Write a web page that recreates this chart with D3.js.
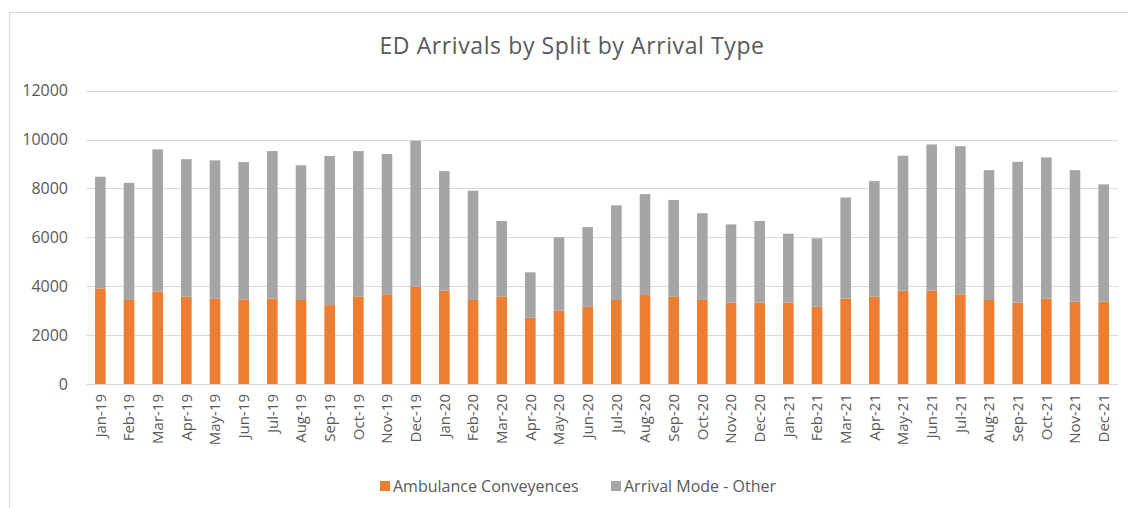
<!DOCTYPE html>
<html>
<head>
<meta charset="utf-8">
<script src="https://cdn.jsdelivr.net/npm/d3@7"></script>
<style>
  html, body { margin: 0; padding: 0; background: #fff; }
  svg { display: block; font-family: "Open Sans", "Noto Sans", sans-serif; }
</style>
</head>
<body>
<div id="chart"></div>
<script>
// Monthly ED arrivals, split by arrival type
const months = [
  'Jan-19', 'Feb-19', 'Mar-19', 'Apr-19', 'May-19', 'Jun-19', 'Jul-19', 'Aug-19', 'Sep-19', 'Oct-19', 'Nov-19', 'Dec-19',
  'Jan-20', 'Feb-20', 'Mar-20', 'Apr-20', 'May-20', 'Jun-20', 'Jul-20', 'Aug-20', 'Sep-20', 'Oct-20', 'Nov-20', 'Dec-20',
  'Jan-21', 'Feb-21', 'Mar-21', 'Apr-21', 'May-21', 'Jun-21', 'Jul-21', 'Aug-21', 'Sep-21', 'Oct-21', 'Nov-21', 'Dec-21'
];
const ambulance = [
  3910, 3440, 3780, 3570, 3500, 3460, 3500, 3440, 3230, 3570, 3670, 3980,
  3820, 3440, 3570, 2710, 3000, 3160, 3440, 3640, 3570, 3440, 3330, 3330,
  3330, 3160, 3490, 3570, 3820, 3820, 3670, 3440, 3330, 3500, 3370, 3370
];
const other = [
  4570, 4790, 5820, 5630, 5650, 5620, 6030, 5510, 6100, 5960, 5740, 5970,
  4890, 4470, 3100, 1860, 3000, 3260, 3870, 4130, 3960, 3550, 3200, 3340,
  2820, 2800, 4140, 4730, 5520, 5980, 6060, 5310, 5760, 5770, 5380, 4800
];
const seriesNames = ['Ambulance Conveyences', 'Arrival Mode - Other'];
const seriesColors = ['#ED7D31', '#A5A5A5'];
const yTicks = [0, 2000, 4000, 6000, 8000, 10000, 12000];
const title = 'ED Arrivals by Split by Arrival Type';

const W = 1128, H = 508;
const plot = { left: 86, right: 1118, top: 90.7, bottom: 384 };

const svg = d3.select('#chart').append('svg')
  .attr('width', W)
  .attr('height', H);

// chart area border (runs off the right/bottom edge like the source)
svg.append('rect')
  .attr('x', 9.5).attr('y', 12.5)
  .attr('width', W).attr('height', H)
  .attr('fill', '#fff')
  .attr('stroke', '#D9D9D9');

svg.append('text')
  .attr('x', 572).attr('y', 54)
  .attr('text-anchor', 'middle')
  .attr('font-size', '23px')
  .attr('letter-spacing', '0.6px')
  .attr('fill', '#595959')
  .text(title);

const x = d3.scaleBand()
  .domain(months)
  .range([plot.left, plot.right])
  .paddingInner(0.63)
  .paddingOuter(0.315);

const y = d3.scaleLinear()
  .domain([0, 12000])
  .range([plot.bottom, plot.top]);

// gridlines
svg.append('g')
  .selectAll('line')
  .data(yTicks)
  .join('line')
  .attr('x1', plot.left).attr('x2', plot.right)
  .attr('y1', d => Math.round(y(d)) + 0.5)
  .attr('y2', d => Math.round(y(d)) + 0.5)
  .attr('stroke', '#D9D9D9')
  .attr('stroke-width', 1);

// y axis labels
const yAxis = svg.append('g')
  .attr('transform', `translate(${plot.left},0)`)
  .call(d3.axisLeft(y).tickValues(yTicks).tickSize(0).tickPadding(18).tickFormat(d3.format('d')));
yAxis.select('.domain').remove();
yAxis.selectAll('text')
  .attr('font-family', '"Open Sans", sans-serif')
  .attr('font-size', '16px')
  .attr('fill', '#595959');

// stacked bars
const rows = months.map((m, i) => ({ month: m, amb: ambulance[i], other: other[i] }));
const stacked = d3.stack().keys(['amb', 'other'])(rows);

svg.append('g')
  .selectAll('g')
  .data(stacked)
  .join('g')
  .attr('fill', (d, i) => seriesColors[i])
  .selectAll('rect')
  .data(d => d)
  .join('rect')
  .attr('x', d => x(d.data.month))
  .attr('width', x.bandwidth())
  .attr('y', d => y(d[1]))
  .attr('height', d => y(d[0]) - y(d[1]));

// x axis labels
const xAxis = svg.append('g')
  .attr('transform', `translate(0,${plot.bottom})`)
  .call(d3.axisBottom(x).tickSize(0).tickPadding(0));
xAxis.select('.domain').remove();
xAxis.selectAll('text')
  .attr('font-family', '"Open Sans", sans-serif')
  .attr('font-size', '15px')
  .attr('fill', '#595959')
  .attr('text-anchor', 'end')
  .attr('dy', '0.35em')
  .attr('transform', 'translate(0,10) rotate(-90)')
  .attr('x', 0).attr('y', 0);

// legend
const legendItems = [
  { name: seriesNames[0], color: seriesColors[0], x: 380 },
  { name: seriesNames[1], color: seriesColors[1], x: 611 }
];
const legend = svg.append('g');
legendItems.forEach(it => {
  legend.append('rect')
    .attr('x', it.x).attr('y', 481)
    .attr('width', 10).attr('height', 10)
    .attr('fill', it.color);
  legend.append('text')
    .attr('x', it.x + 13).attr('y', 492)
    .attr('font-size', '16px')
    .attr('fill', '#595959')
    .text(it.name);
});
</script>
</body>
</html>
